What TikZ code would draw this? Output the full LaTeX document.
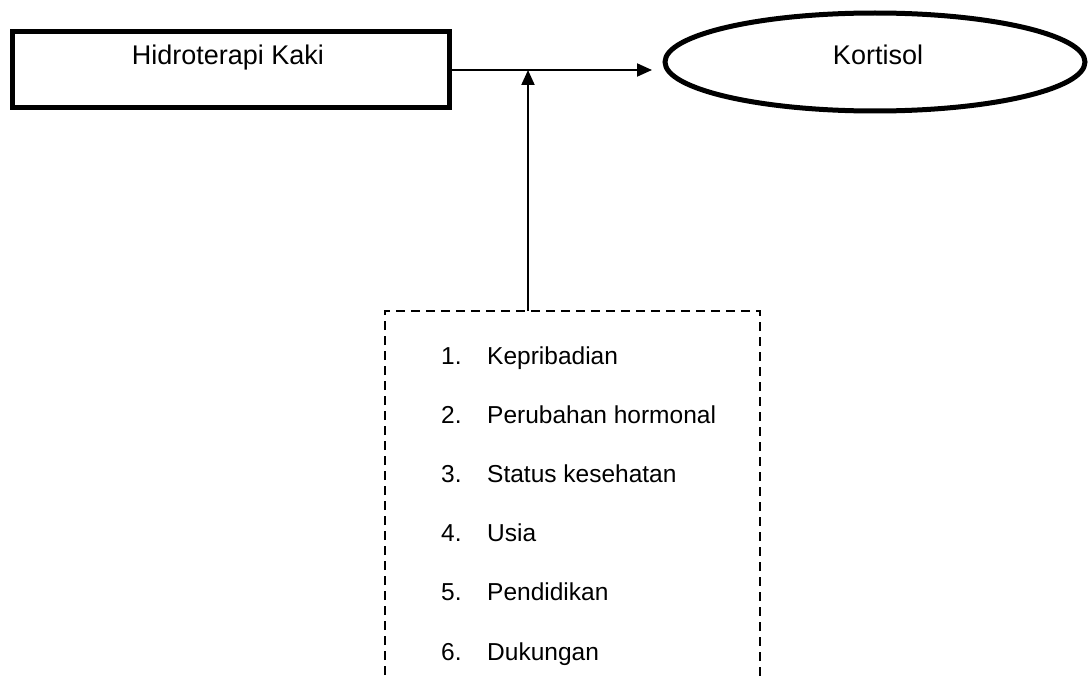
\documentclass[tikz,border=0pt]{standalone}
\usepackage{fontspec}
\setmainfont{Liberation Sans}
\usetikzlibrary{shapes.geometric,arrows.meta}
\begin{document}
\begin{tikzpicture}[x=1pt,y=-1pt,
  box/.style={draw,line width=5pt,minimum width=437pt,minimum height=76pt,inner sep=0pt},
  oval/.style={draw,ellipse,line width=5pt,minimum width=420pt,minimum height=98pt,inner sep=0pt},
  lbl/.style={font=\fontsize{27}{32}\selectfont,inner sep=0pt},
  item/.style={font=\fontsize{24.5}{29}\selectfont,inner sep=0pt,anchor=base west},
  conn/.style={line width=2pt,-{Triangle[length=15pt,width=13pt]}},
  dsh/.style={line width=1.6pt,dash pattern=on 9pt off 6pt}]
\useasboundingbox (0,0) rectangle (1088,677);
\clip (0,0) rectangle (1088,677);
\node[box] (hk) at (230.5,70) {};
\node[lbl] (hkt) at (228,58) {Hidroterapi Kaki};
\node[oval] (ko) at (875,62) {};
\node[lbl] (kot) at (878,55) {Kortisol};
\coordinate (j) at (528,70);
\coordinate (tip) at (652,70);
\coordinate (dtl) at (385,311);
\coordinate (dtr) at (760,311);
\coordinate (dtm) at (528,311);
\coordinate (dbl) at (385,690);
\coordinate (dbr) at (760,690);
\draw[dsh] (dbl) -- (dtl) -- (dtr) -- (dbr);
\draw[conn] (hk.east) -- (tip);
\draw[conn] (dtm) -- (j);
\foreach \n/\t/\y in {1/Kepribadian/364,2/Perubahan hormonal/423,3/Status kesehatan/482,4/Usia/541,5/Pendidikan/600,6/Dukungan/660}{
  \node[item] (n\n) at (441,\y) {\n.};
  \node[item] (t\n) at (487,\y) {\t};
}
\end{tikzpicture}
\end{document}
